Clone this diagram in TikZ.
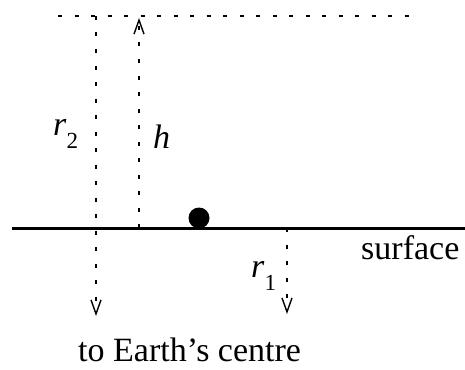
\documentclass[tikz,border=0pt]{standalone}
\usepackage{fontspec}
\setmainfont{Liberation Serif}
\usetikzlibrary{arrows.meta}
\newcommand{\subnum}[1]{\raisebox{-13pt}{\fontsize{23}{27}\selectfont #1}}
\begin{document}
\begin{tikzpicture}[x=1pt,y=-1pt,
  dline/.style={line width=1.5pt,dash pattern=on 4pt off 12.5pt},
  arr/.style={dline,-{Straight Barb[length=14pt,width=10pt,line width=1.4pt]}},
  lbl/.style={font=\fontsize{34}{40}\selectfont,inner sep=0pt,anchor=base west}]
\useasboundingbox (0,0) rectangle (465,369);
\coordinate (tl) at (58,16);
\coordinate (tr) at (415,16);
\coordinate (sl) at (12,228);
\coordinate (sr) at (465,228);
\coordinate (r2top) at (96,16);
\coordinate (r2bot) at (96,316);
\coordinate (hbot) at (139,228);
\coordinate (htop) at (139,18);
\coordinate (r1top) at (287,228);
\coordinate (r1bot) at (287,314);
\draw[dline] (tl) -- (tr);
\draw[line width=3pt] (sl) -- (sr);
\draw[arr] (r2top) -- (r2bot);
\draw[arr] (hbot) -- (htop);
\draw[arr] (r1top) -- (r1bot);
\fill (199,218) circle (10.5);
\node[lbl] (r2) at (53,135) {\textit{r}\subnum{2}};
\node[lbl] (h) at (153,148) {\textit{h}};
\node[lbl] (r1) at (251,277) {\textit{r}\subnum{1}};
\node[lbl] (surf) at (361,259) {surface};
\node[lbl] (earth) at (78,361) {to Earth’s centre};
\end{tikzpicture}
\end{document}
